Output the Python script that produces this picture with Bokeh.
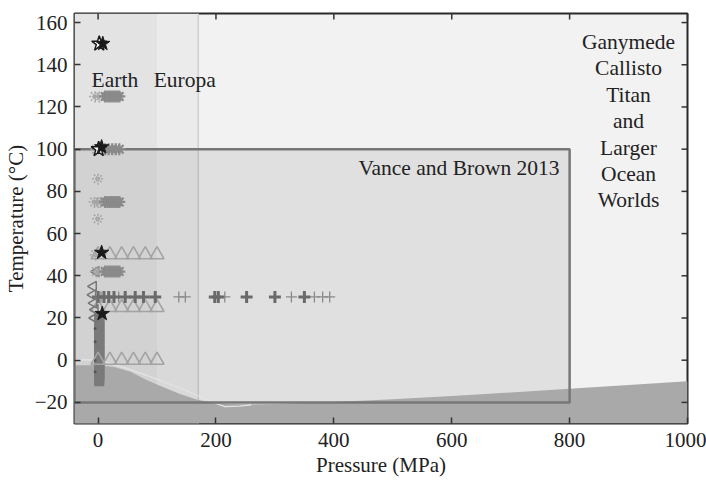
import math
from bokeh.plotting import figure
from bokeh.models import Range1d, FixedTicker, Label, BoxAnnotation
from bokeh.embed import file_html
from bokeh.resources import INLINE

FONT = "Liberation Serif"

# ---------------- data ----------------
x_ticks = [0, 200, 400, 600, 800, 1000]
y_ticks = [-20, 0, 20, 40, 60, 80, 100, 120, 140, 160]
X_MIN, X_MAX = -40, 1000
Y_MIN, Y_MAX = -30, 164.3

earth_p = [-40, 100]
europa_p = [100, 170]
europa_edge = 170
vb_p = [-40, 800]
vb_t = [-20, 100]

ice_p = [-40, 0, 27, 55, 83, 111, 139, 167, 195, 224, 260, 300, 400, 500, 600, 700, 800, 900, 1000]
ice_t = [-2.4, -2.4, -3.2, -5.5, -9.5, -12.8, -16, -18.6, -20.2, -20.8, -20.9, -20.7, -19.8, -18.5, -17, -15.3, -13.5, -11.7, -10]
melt_p = [-40, 0, 50, 100, 150, 200, 215, 240, 260]
melt_t = [0.3, 0, -4, -9, -14.5, -20.5, -22, -21.8, -21.2]

star_black_p = [8, 6, 6, 7]
star_black_t = [150, 101, 51, 22]
star_open_p = [2, 1]
star_open_t = [150, 100]

ast_dark_p = [12, 16, 20, 24, 28, 32, 36, 12, 18, 24, 30, 36, 12, 16, 20, 24, 28, 32, 36, 12, 16, 20, 24, 28, 32, 36]
ast_dark_t = [125, 125, 125, 125, 125, 125, 125, 100, 100, 100, 100, 100, 75, 75, 75, 75, 75, 75, 75, 42, 42, 42, 42, 42, 42, 42]
ast_light_p = [-5, 2, -3, -6, 0, 4, 0, 0, -3, 2, -4]
ast_light_t = [125, 125, 100, 75, 75, 75, 86, 67, 42, 42, 50]

tri_p = [0, 20, 40, 60, 80, 100, 0, 20, 40, 60, 80, 100, 0, 20, 40, 60, 80, 100]
tri_t = [50, 50, 50, 50, 50, 50, 25, 25, 25, 25, 25, 25, 0, 0, 0, 0, 0, 0]

plus_bold_p = [0, 10, 18, 27, 46, 63, 77, 97, 198, 204, 252, 300, 350]
plus_bold_t = [30] * 13
plus_thin_p = [1, 5, 35, 137, 148, 215, 328, 367, 381, 393]
plus_thin_t = [30] * 10

ltri_p = [-8, -9, -7, -5, -6, -3]
ltri_t = [35, 31, 27, 24, 20, 42]

col_p = [2] * 31
col_t = [-10, -9, -8, -7, -6, -5, -4, -3, -2, -1, 0, 1, 2, 3, 4, 5, 6, 7, 8, 9, 10,
         11, 12, 13, 14, 15, 16, 17, 18, 19, 20]
dot_p = [-5, -5, -5, -5]
dot_t = [15, 8.7, 0, -5.5]

outer_labels = ["Ganymede", "Callisto", "Titan", "and", "Larger", "Ocean", "Worlds"]

# ---------------- figure ----------------
p = figure(width=706, height=485, output_backend="svg", toolbar_location=None,
           x_range=Range1d(X_MIN, X_MAX), y_range=Range1d(Y_MIN, Y_MAX),
           min_border_left=71, min_border_right=19, min_border_top=13, min_border_bottom=62)
p.background_fill_color = "#f2f2f2"
p.border_fill_color = "white"
p.outline_line_color = "#2a2a2a"
p.outline_line_width = 2
p.grid.visible = False

for ax in (p.xaxis[0], p.yaxis[0]):
    ax.axis_line_color = None
    ax.major_tick_in = 6
    ax.major_tick_out = 0
    ax.minor_tick_line_color = None
    ax.major_tick_line_color = "#333333"
    ax.major_tick_line_width = 1.5
    ax.major_label_text_font = FONT
    ax.major_label_text_font_size = "21px"
    ax.major_label_text_color = "#222222"
    ax.axis_label_text_font = FONT
    ax.axis_label_text_font_size = "21px"
    ax.axis_label_text_font_style = "normal"
    ax.axis_label_text_color = "#222222"
p.xaxis.ticker = FixedTicker(ticks=x_ticks)
p.yaxis.ticker = FixedTicker(ticks=y_ticks)
p.xaxis.axis_label = "Pressure (MPa)"
p.yaxis.axis_label = "Temperature (°C)"
p.xaxis.major_label_standoff = 9
p.yaxis.major_label_standoff = 7
p.xaxis.axis_label_standoff = 3
p.yaxis.axis_label_standoff = 4

# mirrored inward ticks on top and right (6 px long)
tx = 6 / (616 / (X_MAX - X_MIN))
ty = 6 / (410.5 / (Y_MAX - Y_MIN))
p.segment(x0=x_ticks, y0=[Y_MAX] * len(x_ticks), x1=x_ticks, y1=[Y_MAX - ty] * len(x_ticks),
          line_color="#333333", line_width=1.5, level="overlay")
p.segment(x0=[X_MAX] * len(y_ticks), y0=y_ticks, x1=[X_MAX - tx] * len(y_ticks), y1=y_ticks,
          line_color="#333333", line_width=1.5, level="overlay")

# regions
p.add_layout(BoxAnnotation(left=earth_p[0], right=earth_p[1], fill_color="#e3e3e3", fill_alpha=1,
                           line_color=None, level="underlay"))
p.add_layout(BoxAnnotation(left=europa_p[0], right=europa_p[1], fill_color="#ebebeb", fill_alpha=1,
                           line_color=None, level="underlay"))
p.segment(x0=[europa_edge], y0=[Y_MIN], x1=[europa_edge], y1=[Y_MAX], line_color="#d0d0d0", line_width=1.5)

# Vance & Brown box fill
p.quad(left=[vb_p[0]], right=[vb_p[1]], bottom=[vb_t[0]], top=[vb_t[1]],
       fill_color="black", fill_alpha=0.075, line_color=None)
# ice
p.varea(x=ice_p, y1=[Y_MIN] * len(ice_p), y2=ice_t, fill_color="#a9a9a9")
p.line(melt_p, melt_t, line_color="#e4e4e4", line_width=1.2)
# box outline
p.quad(left=[vb_p[0]], right=[vb_p[1]], bottom=[vb_t[0]], top=[vb_t[1]],
       fill_color=None, line_color="#777777", line_width=2.5)

# markers
p.scatter(col_p, col_t, marker="square", size=10, fill_color="#7a7a7a", line_color=None)
p.scatter(dot_p, dot_t, marker="circle", size=3, fill_color="#555555", line_color=None)
p.scatter(tri_p, tri_t, marker="triangle", size=14, fill_color=None, line_color="#a3a3a3", line_width=1.6)
p.scatter(plus_thin_p, plus_thin_t, marker="cross", size=11, line_color="#8a8a8a", line_width=1.3)
p.scatter(plus_bold_p, plus_bold_t, marker="cross", size=12, line_color="#6a6a6a", line_width=3)
p.scatter(ltri_p, ltri_t, marker="triangle", angle=math.pi / 2, size=10, fill_color=None,
          line_color="#777777", line_width=1.5)
p.scatter(ast_light_p, ast_light_t, marker="asterisk", size=12, line_color="#a5a5a5", line_width=1.5,
          line_dash="2 1")
p.scatter(ast_dark_p, ast_dark_t, marker="asterisk", size=12, line_color="#8a8a8a", line_width=2.2)
p.scatter(star_open_p, star_open_t, marker="star", size=16, fill_color="white", line_color="#1a1a1a", line_width=1.5)
p.scatter(star_black_p, star_black_t, marker="star", size=15, fill_color="#1a1a1a", line_color="#1a1a1a")

# labels
lab_kw = dict(text_font=FONT, text_font_size="21.5px", text_color="#222222")
p.add_layout(Label(x=-11, y=133, text="Earth", text_baseline="middle", text_align="left", **lab_kw))
p.add_layout(Label(x=147, y=133, text="Europa", text_baseline="middle", text_align="center", **lab_kw))
p.add_layout(Label(x=783, y=91, text="Vance and Brown 2013", text_baseline="middle", text_align="right", **lab_kw))
p.add_layout(Label(x=900, y=156.5, text="\n".join(outer_labels),
                   text_baseline="top", text_align="center", text_line_height=1.1, **lab_kw))

open("out.html", "w").write(file_html(p, INLINE))
